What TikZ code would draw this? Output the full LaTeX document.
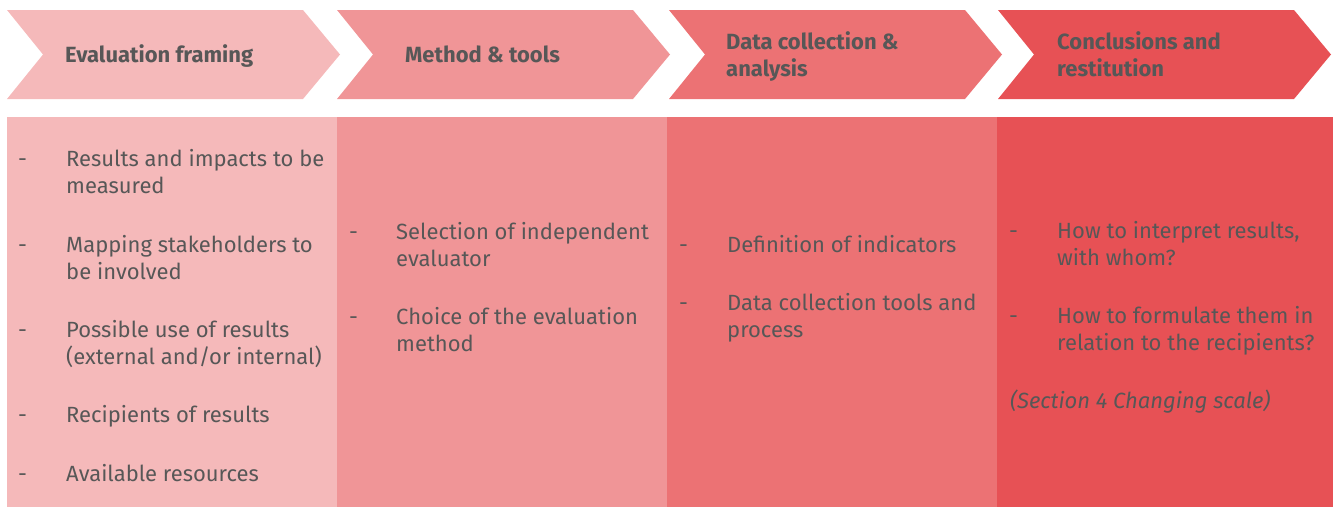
\documentclass[tikz,border=0pt]{standalone}
\usepackage{fontspec}
\setmainfont{Fira Sans}
\usepackage{tikz}

\definecolor{stepA}{HTML}{F5B9BA}
\definecolor{stepB}{HTML}{F09597}
\definecolor{stepC}{HTML}{EC7274}
\definecolor{stepD}{HTML}{E75155}
\definecolor{ink}{HTML}{575757}

\newcommand{\txtsize}{\fontsize{22}{27}\selectfont}
% one arrow of the top row, left corner at x = #1
\newcommand{\chev}[2]{\fill[#2] (#1,10) -- ++(296,0) -- ++(37,44.5) -- ++(-37,44.5) -- ++(-296,0) -- ++(36,-44.5) -- cycle;}

\begin{document}
\begin{tikzpicture}[x=1pt, y=-1pt,
    head/.style={anchor=base west, inner sep=0pt, align=left, text=ink, font=\txtsize\bfseries},
    item/.style={anchor=base west, inner sep=0pt, align=left, text=ink, font=\txtsize},
    hyph/.style={item}]
    \useasboundingbox (0,0) rectangle (1333,507);

    % Arrows
    \chev{7}{stepA}
    \chev{337}{stepB}
    \chev{669}{stepC}
    \chev{998}{stepD}

    % two-line nodes sit on their last line
    \node[head] (head-1) at (65,62) {Evaluation framing};
    \node[head] (head-2) at (405,62) {Method \& tools};
    \node[head] (head-3) at (726,76) {Data collection \&\\analysis};
    \node[head] (head-4) at (1057,76) {Conclusions and\\restitution};

    % Columns
    \fill[stepA] (7,117) rectangle (337,507);
    \fill[stepB] (337,117) rectangle (667,507);
    \fill[stepC] (667,117) rectangle (997,507);
    \fill[stepD] (997,117) rectangle (1333,507);

    % First column
    \node[hyph] (hyph-1-1) at (18,166) {-};
    \node[item] (item-1-1) at (66,193) {Results and impacts to be\\measured};
    \node[hyph] (hyph-1-2) at (18,252) {-};
    \node[item] (item-1-2) at (66,279) {Mapping stakeholders to\\be involved};
    \node[hyph] (hyph-1-3) at (18,337) {-};
    \node[item] (item-1-3) at (66,364) {Possible use of results\\(external and/or internal)};
    \node[hyph] (hyph-1-4) at (18,422) {-};
    \node[item] (item-1-4) at (66,422) {Recipients of results};
    \node[hyph] (hyph-1-5) at (18,481) {-};
    \node[item] (item-1-5) at (66,481) {Available resources};

    % Second column
    \node[hyph] (hyph-2-1) at (349,239) {-};
    \node[item] (item-2-1) at (396,266) {Selection of independent\\evaluator};
    \node[hyph] (hyph-2-2) at (349,324) {-};
    \node[item] (item-2-2) at (396,351) {Choice of the evaluation\\method};

    % Third column
    \node[hyph] (hyph-3-1) at (679,252) {-};
    \node[item] (item-3-1) at (727,252) {Definition of indicators};
    \node[hyph] (hyph-3-2) at (679,310) {-};
    \node[item] (item-3-2) at (727,337) {Data collection tools and\\process};

    % Fourth column
    \node[hyph] (hyph-4-1) at (1009,238) {-};
    \node[item] (item-4-1) at (1057,265) {How to interpret results,\\with whom?};
    \node[hyph] (hyph-4-2) at (1009,323) {-};
    \node[item] (item-4-2) at (1057,350) {How to formulate them in\\relation to the recipients?};
    \node[item, font=\txtsize\itshape] (note-4) at (1010,408) {(Section 4 Changing scale)};

\end{tikzpicture}
\end{document}
